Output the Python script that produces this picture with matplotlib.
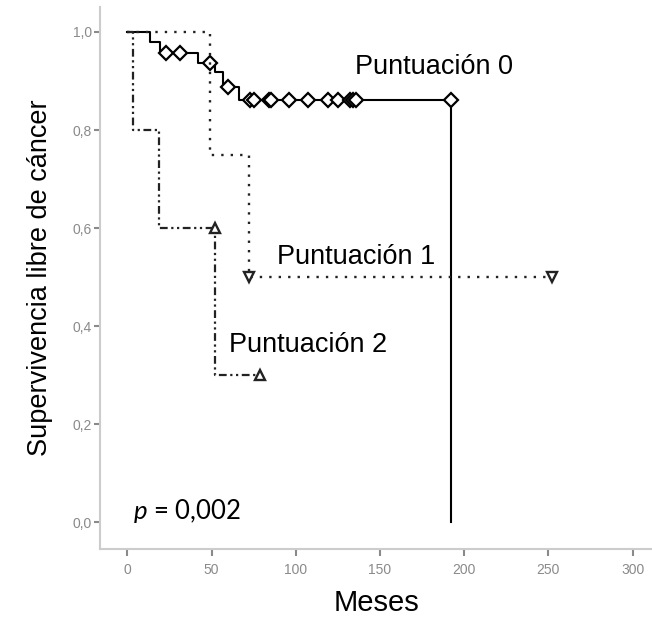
import numpy as np
import matplotlib
matplotlib.use("Agg")
import matplotlib.pyplot as plt
from matplotlib.ticker import FuncFormatter

# --- Données ---
# Puntuación 0 : temps des événements et survie
t0 = [0, 13.5, 19.5, 42, 52, 57, 66, 192]
s0 = [1.0, 0.979, 0.957, 0.937, 0.918, 0.888, 0.861, 0.0]
cens_t0 = [23, 31, 49, 60, 73, 75, 84, 85, 96, 107, 119, 125, 132, 134, 136, 192]
cens_s0 = [0.957, 0.957, 0.937, 0.888] + [0.861] * 12

# Puntuación 1
t1 = [0, 49, 72, 252]
s1 = [1.0, 0.75, 0.5, 0.5]
cens_t1 = [72, 252]
cens_s1 = [0.5, 0.5]

# Puntuación 2
t2 = [0, 3.5, 18.5, 52, 79]
s2 = [1.0, 0.8, 0.6, 0.3, 0.3]
cens_t2 = [52, 79]
cens_s2 = [0.6, 0.3]

xticks = [0, 50, 100, 150, 200, 250, 300]
yticks = [0.0, 0.2, 0.4, 0.6, 0.8, 1.0]

plt.rcParams["font.family"] = ["Liberation Sans", "DejaVu Sans"]
plt.rcParams["mathtext.fontset"] = "custom"
plt.rcParams["mathtext.it"] = "Lato:italic"
plt.rcParams["mathtext.rm"] = "Lato"

fig = plt.figure(figsize=(6.52, 6.21), dpi=100)
ax = fig.add_axes([100 / 652, 72 / 621, 552 / 652, 542 / 621])

# Courbes de Kaplan-Meier
ax.step(t0, s0, where="post", color="black", linewidth=1.5)
ax.plot(cens_t0, cens_s0, linestyle="none", marker="D", markersize=7,
        markerfacecolor="white", markeredgecolor="black", markeredgewidth=1.6)

ax.step(t1, s1, where="post", color="#222222", linewidth=1.7,
        linestyle=(0, (1, 3)))
ax.plot(cens_t1, cens_s1, linestyle="none", marker="v", markersize=6.5,
        markerfacecolor="white", markeredgecolor="#222222", markeredgewidth=1.7)

ax.step(t2, s2, where="post", color="#222222", linewidth=1.6,
        linestyle=(0, (3.5, 1.6, 1, 1.6, 1, 1.6)))
ax.plot(cens_t2, cens_s2, linestyle="none", marker="^", markersize=6.5,
        markerfacecolor="white", markeredgecolor="#222222", markeredgewidth=1.7)

# Étiquettes des groupes
ax.text(135, 0.929, "Puntuación 0", fontsize=19.5, va="center", ha="left")
ax.text(89, 0.541, "Puntuación 1", fontsize=19.5, va="center", ha="left")
ax.text(60.5, 0.361, "Puntuación 2", fontsize=19.5, va="center", ha="left")
ax.text(3, 0.022, r"$p$ = 0,002", fontsize=18.5, va="center", ha="left",
        family="Lato")

# Axes
ax.set_xlim(-16.3, 311.5)
ax.set_ylim(-0.055, 1.051)
ax.set_xticks(xticks)
ax.set_yticks(yticks)
ax.yaxis.set_major_formatter(FuncFormatter(lambda v, p: f"{v:.1f}".replace(".", ",")))
ax.tick_params(axis="both", colors="#8a8a8a", labelsize=10, width=1.5, length=5)
ax.tick_params(axis="x", pad=5)
ax.tick_params(axis="y", length=4, pad=2)

for side in ["top", "right"]:
    ax.spines[side].set_visible(False)
for side in ["left", "bottom"]:
    ax.spines[side].set_color("#cccccc")
    ax.spines[side].set_linewidth(1.5)

ax.set_xlabel("Meses", fontsize=21, labelpad=9)
ax.set_ylabel("Supervivencia libre de cáncer", fontsize=19.5, labelpad=14)

fig.savefig("out.png", dpi=100)
